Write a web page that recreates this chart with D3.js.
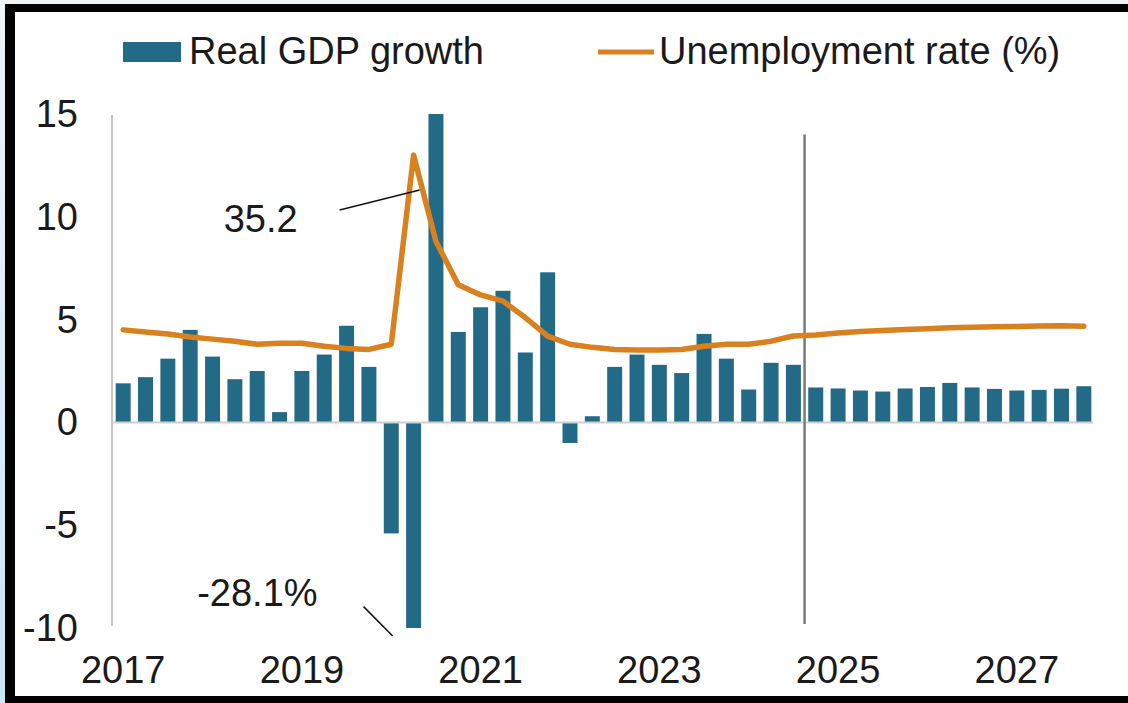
<!DOCTYPE html>
<html>
<head>
<meta charset="utf-8">
<script src="https://cdn.jsdelivr.net/npm/d3@7"></script>
<style>
  html, body { margin: 0; padding: 0; }
  body { width: 1128px; height: 703px; overflow: hidden; }
  svg { display: block; }
  text { font-family: "Liberation Sans", Arial, sans-serif; fill: #1a1a1a; }
</style>
</head>
<body>
<svg id="chart" width="1128" height="703"></svg>
<script>
// Quarterly periods, 2017Q1 – 2027Q4
const years = d3.range(2017, 2028);
const quarters = years.flatMap(y => [1, 2, 3, 4].map(q => `${y}Q${q}`));

// Real GDP growth (annualised, %)
const gdpGrowth = [
  1.9, 2.2, 3.1, 4.5,
  3.2, 2.1, 2.5, 0.5,
  2.5, 3.3, 4.7, 2.7,
  -5.4, -28.1, 35.2, 4.4,
  5.6, 6.4, 3.4, 7.3,
  -1.0, 0.3, 2.7, 3.3,
  2.8, 2.4, 4.3, 3.1,
  1.6, 2.9, 2.8, 1.7,
  1.65, 1.55, 1.5, 1.65,
  1.72, 1.92, 1.7, 1.63,
  1.55, 1.58, 1.64, 1.76
];

// Unemployment rate (%)
const unemployment = [
  4.5, 4.4, 4.3, 4.15,
  4.05, 3.95, 3.8, 3.85,
  3.85, 3.7, 3.6, 3.55,
  3.8, 13.0, 8.8, 6.7,
  6.2, 5.9, 5.1, 4.2,
  3.8, 3.65, 3.55, 3.52,
  3.52, 3.55, 3.7, 3.8,
  3.8, 3.95, 4.2, 4.25,
  4.35, 4.42, 4.47, 4.52,
  4.56, 4.6, 4.63, 4.65,
  4.67, 4.69, 4.7, 4.68
];

const yTicks = [-10, -5, 0, 5, 10, 15];
const xTickLabels = ["2017", "2019", "2021", "2023", "2025", "2027"];
const forecastStart = "2024Q4";
const seriesNames = ["Real GDP growth", "Unemployment rate (%)"];
const annotations = [
  { text: "35.2", period: "2020Q3" },
  { text: "-28.1%", period: "2020Q2" }
];

const barColor = "#236a86";
const lineColor = "#d9801f";
const fontSize = 38;
const fontFamily = '"Liberation Sans", Arial, sans-serif';

const svg = d3.select("#chart");

// Backdrop and frame
const defs = svg.append("defs");
const grad = defs.append("linearGradient").attr("id", "edge").attr("x1", 0).attr("y1", 0).attr("x2", 0).attr("y2", 1);
grad.append("stop").attr("offset", "0%").attr("stop-color", "#eef3f7");
grad.append("stop").attr("offset", "100%").attr("stop-color", "#c9e6f6");
svg.append("rect").attr("width", 1128).attr("height", 703).attr("fill", "url(#edge)");
svg.append("rect").attr("x", 0).attr("y", 0).attr("width", 1128).attr("height", 4).attr("fill", "#eef2f5");
svg.append("rect").attr("x", 5).attr("y", 4).attr("width", 1123).attr("height", 699).attr("fill", "#000");
svg.append("rect").attr("x", 15).attr("y", 12).attr("width", 1113).attr("height", 684).attr("fill", "#fff");

// Scales
const plot = { left: 112, right: 1095, top: 114, bottom: 628 };
const x = d3.scaleBand()
  .domain(quarters)
  .range([plot.left, plot.right])
  .paddingInner(0.33)
  .paddingOuter(0.165);
const y = d3.scaleLinear()
  .domain([-10, 15])
  .range([plot.bottom, plot.top])
  .clamp(true);
const cx = q => x(q) + x.bandwidth() / 2;

// Y axis line
svg.append("line")
  .attr("x1", plot.left).attr("x2", plot.left)
  .attr("y1", y(15) + 1).attr("y2", y(-10) - 2)
  .attr("stroke", "#c4c4c4").attr("stroke-width", 2);

// Y axis labels
const yAxis = d3.axisLeft(y)
  .tickValues(yTicks)
  .tickSize(0)
  .tickPadding(34)
  .tickFormat(d => String(d));
const gy = svg.append("g").attr("transform", `translate(${plot.left},0)`).call(yAxis);
gy.select(".domain").remove();
gy.selectAll("text")
  .style("font-size", fontSize + "px")
  .style("font-family", fontFamily)
  .attr("fill", "#1a1a1a")
  .attr("dy", "0.33em");

// Bars
const bars = quarters.map((q, i) => ({ q, v: gdpGrowth[i] }));
svg.append("g").selectAll("rect")
  .data(bars)
  .join("rect")
  .attr("x", d => x(d.q))
  .attr("width", x.bandwidth())
  .attr("y", d => Math.min(y(d.v), y(0)))
  .attr("height", d => Math.abs(y(d.v) - y(0)))
  .attr("fill", barColor);

// Zero line
svg.append("line")
  .attr("x1", plot.left).attr("x2", plot.right - 2)
  .attr("y1", y(0)).attr("y2", y(0))
  .attr("stroke", "#cfcfcf").attr("stroke-width", 2);

// Forecast divider
const divX = x(forecastStart) - x.step() * x.paddingInner() / 2;
svg.append("line")
  .attr("x1", divX).attr("x2", divX)
  .attr("y1", y(14)).attr("y2", y(-9.8))
  .attr("stroke", "#7a7a7a").attr("stroke-width", 2.5);

// Unemployment line
const line = d3.line()
  .x((d, i) => cx(quarters[i]))
  .y(d => y(d))
  .curve(d3.curveLinear);
svg.append("path")
  .datum(unemployment)
  .attr("d", line)
  .attr("fill", "none")
  .attr("stroke", lineColor)
  .attr("stroke-width", 5.5)
  .attr("stroke-linejoin", "round")
  .attr("stroke-linecap", "round");

// X axis labels (first quarter of odd years)
const xAxis = d3.axisBottom(x)
  .tickValues(xTickLabels.map(yr => `${yr}Q1`))
  .tickSize(0)
  .tickPadding(0)
  .tickFormat(q => q.slice(0, 4));
const gx = svg.append("g").attr("transform", `translate(0,${plot.bottom})`).call(xAxis);
gx.select(".domain").remove();
gx.selectAll("text")
  .style("font-size", fontSize + "px")
  .style("font-family", fontFamily)
  .attr("fill", "#1a1a1a")
  .attr("y", 55)
  .attr("dy", 0);

// Annotations for clipped bars
const up = annotations[0];
const upX = cx("2020Q2");
svg.append("line")
  .attr("x1", upX - 74).attr("y1", y(10.33))
  .attr("x2", upX + 6).attr("y2", y(11.3))
  .attr("stroke", "#111").attr("stroke-width", 1.5);
svg.append("text")
  .attr("x", upX - 116).attr("y", y(9.28))
  .attr("text-anchor", "end")
  .style("font-size", fontSize + "px")
  .text(up.text);

const down = annotations[1];
const downX = cx(down.period);
svg.append("line")
  .attr("x1", downX - 50).attr("y1", y(-8.96))
  .attr("x2", downX - 21).attr("y2", y(-10) + 8)
  .attr("stroke", "#111").attr("stroke-width", 1.5);
svg.append("text")
  .attr("x", downX - 96).attr("y", y(-8.96) - 1)
  .attr("text-anchor", "end")
  .style("font-size", fontSize + "px")
  .text(down.text);

// Legend
const legend = svg.append("g");
legend.append("rect")
  .attr("x", 123).attr("y", 42).attr("width", 58).attr("height", 20)
  .attr("fill", barColor);
legend.append("text")
  .attr("x", 189).attr("y", 64)
  .style("font-size", fontSize + "px")
  .text(seriesNames[0]);
legend.append("line")
  .attr("x1", 598).attr("x2", 654).attr("y1", 52).attr("y2", 52)
  .attr("stroke", lineColor).attr("stroke-width", 5);
legend.append("text")
  .attr("x", 659).attr("y", 64)
  .style("font-size", fontSize + "px")
  .text(seriesNames[1]);
</script>
</body>
</html>
